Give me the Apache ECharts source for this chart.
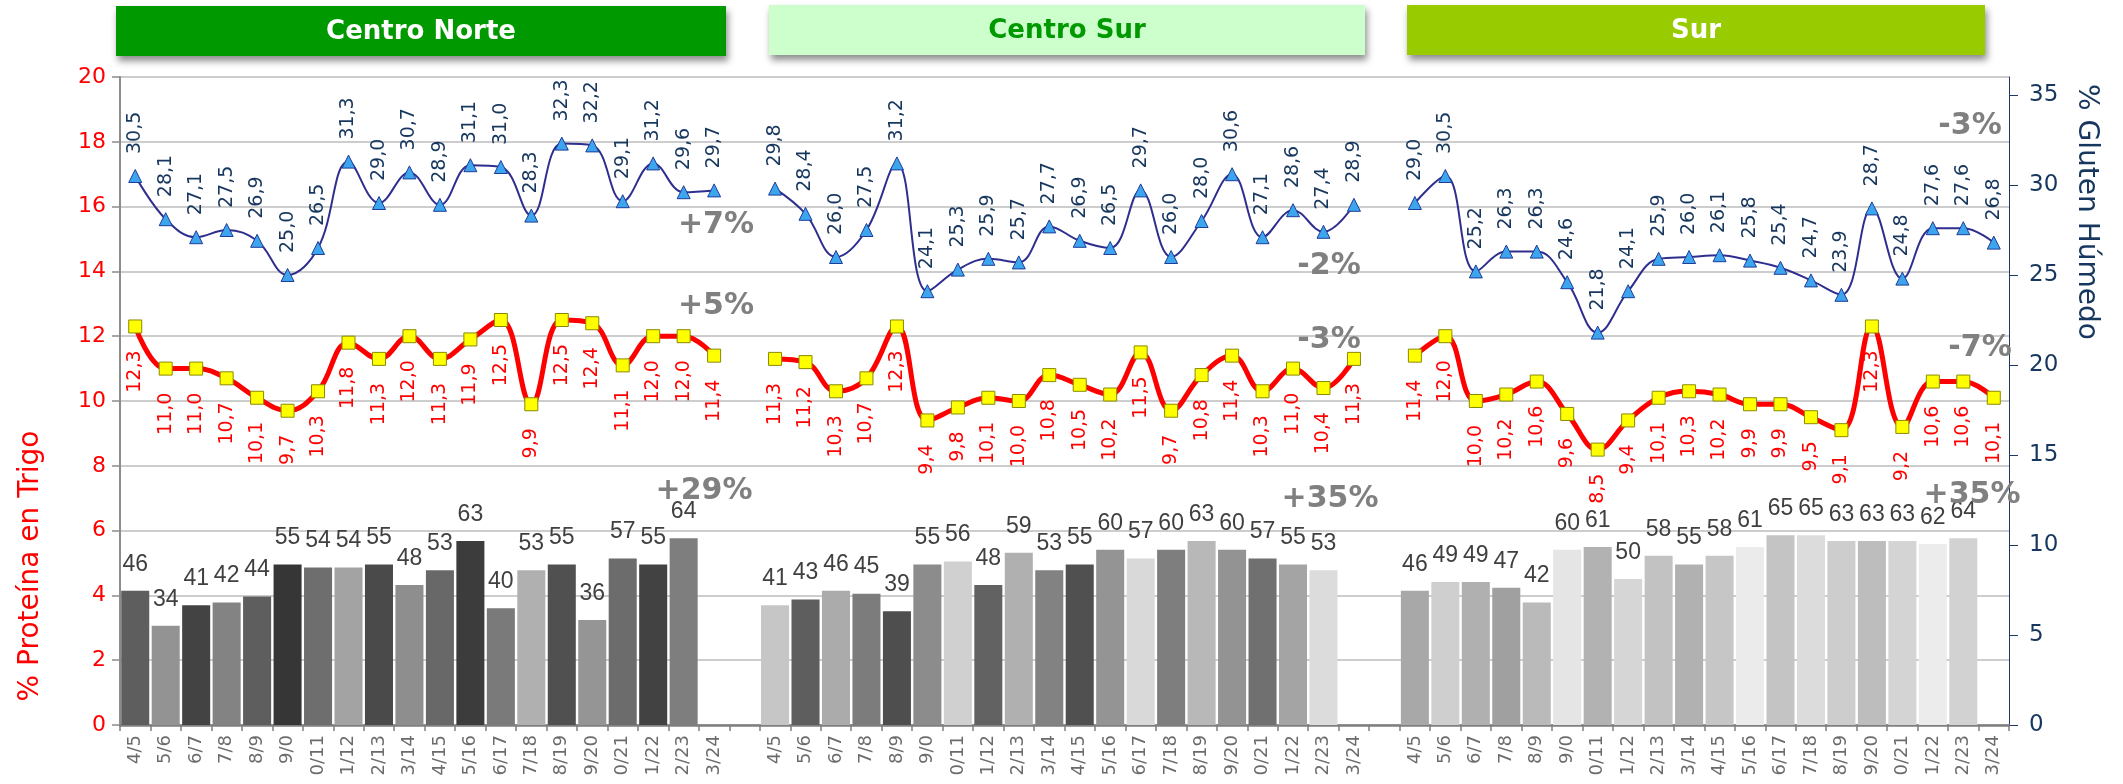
<!DOCTYPE html>
<html>
<head>
<meta charset="utf-8">
<script src="https://cdn.jsdelivr.net/npm/echarts@6/dist/echarts.min.js"></script>
<style>
  html, body { margin: 0; padding: 0; background: #ffffff; }
  #chart { width: 2123px; height: 784px; }
</style>
</head>
<body>
<div id="chart"></div>
<script>
// Campaign labels (same 20 seasons for every region)
const seasons = ['4/5','5/6','6/7','7/8','8/9','9/0','0/11','1/12','2/13','3/14',
                 '4/15','5/16','6/17','7/18','8/19','9/20','0/21','1/22','2/23','3/24'];

const regionNames = ['Centro Norte', 'Centro Sur', 'Sur'];

// % Proteína en Trigo
const proteinCentroNorte = [12.3,11.0,11.0,10.7,10.1,9.7,10.3,11.8,11.3,12.0,11.3,11.9,12.5,9.9,12.5,12.4,11.1,12.0,12.0,11.4];
const proteinCentroSur   = [11.3,11.2,10.3,10.7,12.3,9.4,9.8,10.1,10.0,10.8,10.5,10.2,11.5,9.7,10.8,11.4,10.3,11.0,10.4,11.3];
const proteinSur         = [11.4,12.0,10.0,10.2,10.6,9.6,8.5,9.4,10.1,10.3,10.2,9.9,9.9,9.5,9.1,12.3,9.2,10.6,10.6,10.1];

// % Gluten Húmedo
const glutenCentroNorte = [30.5,28.1,27.1,27.5,26.9,25.0,26.5,31.3,29.0,30.7,28.9,31.1,31.0,28.3,32.3,32.2,29.1,31.2,29.6,29.7];
const glutenCentroSur   = [29.8,28.4,26.0,27.5,31.2,24.1,25.3,25.9,25.7,27.7,26.9,26.5,29.7,26.0,28.0,30.6,27.1,28.6,27.4,28.9];
const glutenSur         = [29.0,30.5,25.2,26.3,26.3,24.6,21.8,24.1,25.9,26.0,26.1,25.8,25.4,24.7,23.9,28.7,24.8,27.6,27.6,26.8];

// Bar values (last season has no bar)
const barsCentroNorte = [46,34,41,42,44,55,54,54,55,48,53,63,40,53,55,36,57,55,64,null];
const barsCentroSur   = [41,43,46,45,39,55,56,48,59,53,55,60,57,60,63,60,57,55,53,null];
const barsSur         = [46,49,49,47,42,60,61,50,58,55,58,61,65,65,63,63,63,62,64,null];

// Variation notes per region: [gluten, protein, bars]
const changeCentroNorte = ['+7%', '+5%', '+29%'];
const changeCentroSur   = ['-2%', '-3%', '+35%'];
const changeSur         = ['-3%', '-7%', '+35%'];

// Bar shades, one per season
const shadesCentroNorte = ['#5e5e5e','#939393','#434343','#838383','#5e5e5e','#363636','#6e6e6e','#a3a3a3','#4a4a4a','#8e8e8e',
                           '#686868','#3c3c3c','#7a7a7a','#b0b0b0','#505050','#959595','#6c6c6c','#424242','#7e7e7e','#7e7e7e'];
const shadesCentroSur   = ['#c6c6c6','#5e5e5e','#ababab','#7c7c7c','#4e4e4e','#8c8c8c','#d0d0d0','#626262','#b0b0b0','#828282',
                           '#505050','#949494','#d9d9d9','#7e7e7e','#b8b8b8','#939393','#707070','#a4a4a4','#dcdcdc','#dcdcdc'];
const shadesSur         = ['#a8a8a8','#cfcfcf','#b0b0b0','#a0a0a0','#bababa','#e5e5e5','#b2b2b2','#d6d6d6','#c2c2c2','#b1b1b1',
                           '#c6c6c6','#ebebeb','#c4c4c4','#dcdcdc','#cdcdcd','#bdbdbd','#d4d4d4','#ececec','#d2d2d2','#d2d2d2'];

// ---- assemble the three regions on one category axis, with an empty slot between them
function joinGroups(groups) {
  const out = [];
  groups.forEach((g, i) => {
    if (i > 0) out.push(null);
    g.forEach(v => out.push(v));
  });
  return out;
}

const categories = joinGroups([seasons, seasons, seasons]).map(v => v === null ? '' : v);
const proteinData = joinGroups([proteinCentroNorte, proteinCentroSur, proteinSur]);
const glutenData = joinGroups([glutenCentroNorte, glutenCentroSur, glutenSur]);
const barValues = joinGroups([barsCentroNorte, barsCentroSur, barsSur]);
const barShades = joinGroups([shadesCentroNorte, shadesCentroSur, shadesSur]);
const barData = barValues.map((v, i) => v === null ? null : { value: v, itemStyle: { color: barShades[i] } });

const decimalComma = p => p.value == null ? '' : Number(p.value).toFixed(1).replace('.', ',');

const chart = echarts.init(document.getElementById('chart'), null, { renderer: 'canvas' });

const labelFont = '"DejaVu Sans", Verdana, sans-serif';
const narrowFont = '"Liberation Sans", Arial, sans-serif';

// Region header boxes
const headers = [
  { name: regionNames[0], x: 116, y: 6, w: 610, h: 50, fill: '#009900', text: '#ffffff' },
  { name: regionNames[1], x: 769, y: 5, w: 596, h: 50, fill: '#ccffcc', text: '#009900' },
  { name: regionNames[2], x: 1407, y: 5, w: 578, h: 50, fill: '#99cc00', text: '#ffffff' }
];

const headerGraphics = [];
headers.forEach(h => {
  headerGraphics.push({
    type: 'rect', left: h.x, top: h.y, z: 10,
    shape: { width: h.w, height: h.h },
    style: { fill: h.fill, shadowBlur: 7, shadowOffsetX: 2, shadowOffsetY: 5, shadowColor: 'rgba(0,0,0,0.45)' }
  });
  headerGraphics.push({
    type: 'text', x: h.x + h.w / 2, y: h.y + h.h / 2 + 1, z: 11,
    style: { text: h.name, fill: h.text, font: 'bold 26px ' + labelFont, textAlign: 'center', textVerticalAlign: 'middle' }
  });
});

// Variation notes placed beside each region's series
const notePositions = [
  [[716, 225], [716, 306], [704, 491]],
  [[1329, 266], [1329, 340], [1330, 499]],
  [[1970, 126], [1980, 348], [1972, 495]]
];
const noteTexts = [changeCentroNorte, changeCentroSur, changeSur];
const noteGraphics = [];
noteTexts.forEach((arr, r) => arr.forEach((t, k) => {
  noteGraphics.push({
    type: 'text', x: notePositions[r][k][0], y: notePositions[r][k][1], z: 20,
    style: { text: t, fill: '#808080', font: 'bold 30px ' + labelFont, textAlign: 'center', textVerticalAlign: 'middle' }
  });
}));

// Axis titles
const titleGraphics = [
  {
    type: 'text', x: 31, y: 566, rotation: Math.PI / 2, z: 20,
    style: { text: '% Proteína en Trigo', fill: '#ff0000', font: '28px ' + labelFont, textAlign: 'center', textVerticalAlign: 'middle' }
  },
  {
    type: 'text', x: 2086, y: 212, rotation: -Math.PI / 2, z: 20,
    style: { text: '% Gluten Húmedo', fill: '#17375e', font: '28px ' + labelFont, textAlign: 'center', textVerticalAlign: 'middle' }
  }
];

const rightTicks = [0, 5, 10, 15, 20, 25, 30, 35];

chart.setOption({
  animation: false,
  backgroundColor: '#ffffff',
  grid: { left: 120, right: 114, top: 77, bottom: 59, containLabel: false },
  xAxis: {
    type: 'category',
    data: categories,
    boundaryGap: true,
    axisLine: { show: true, lineStyle: { color: '#7f7f7f', width: 2.5 } },
    axisTick: { show: true, interval: 0, length: 6, lineStyle: { color: '#7f7f7f', width: 1.5 } },
    axisLabel: { interval: 0, rotate: 90, color: '#6b6b6b', fontSize: 18, fontFamily: labelFont, margin: 10 },
    splitLine: { show: false }
  },
  yAxis: [
    {
      type: 'value', position: 'left', min: 0, max: 20, interval: 2,
      axisLine: { show: true, lineStyle: { color: '#8c8c8c', width: 2 } },
      axisTick: { show: true, length: 8, lineStyle: { color: '#8c8c8c', width: 1.5 } },
      axisLabel: { color: '#ff0000', fontSize: 22, fontFamily: labelFont, margin: 14 },
      splitLine: { show: true, lineStyle: { color: '#bcbcbc', width: 1.6 } }
    },
    {
      type: 'value', position: 'right', min: 0, max: 36,
      axisLine: { show: true, lineStyle: { color: '#1f3864', width: 1 } },
      axisTick: { show: true, length: 9, customValues: rightTicks, lineStyle: { color: '#1f3864', width: 1 } },
      axisLabel: { color: '#17375e', fontSize: 23, fontFamily: labelFont, margin: 20, customValues: rightTicks },
      splitLine: { show: false }
    },
    {
      type: 'value', min: 0, max: 222, show: false,
      splitLine: { show: false }
    }
  ],
  graphic: headerGraphics.concat(noteGraphics, titleGraphics),
  series: [
    {
      name: 'Volumen',
      type: 'bar',
      yAxisIndex: 2,
      data: barData,
      barCategoryGap: '8%',
      z: 1,
      label: {
        show: true, position: 'top', distance: 15,
        color: '#404040', fontSize: 23, fontFamily: narrowFont
      }
    },
    {
      name: '% Proteína en Trigo',
      type: 'line',
      yAxisIndex: 0,
      data: proteinData,
      smooth: 0.4,
      connectNulls: false,
      z: 4,
      symbol: 'rect',
      symbolSize: 13,
      lineStyle: { color: '#ff0000', width: 5 },
      itemStyle: { color: '#ffff00', borderColor: '#8a8a00', borderWidth: 1 },
      label: {
        show: true, position: 'bottom', distance: 17, rotate: 90,
        align: 'right', verticalAlign: 'middle',
        color: '#ff0000', fontSize: 19, fontFamily: labelFont,
        formatter: decimalComma
      }
    },
    {
      name: '% Gluten Húmedo',
      type: 'line',
      yAxisIndex: 1,
      data: glutenData,
      smooth: 0.4,
      connectNulls: false,
      z: 5,
      symbol: 'triangle',
      symbolSize: 13,
      lineStyle: { color: '#2e2e8f', width: 2 },
      itemStyle: { color: '#3da5ee', borderColor: '#1f3c99', borderWidth: 1 },
      label: {
        show: true, position: 'top', distance: 15, rotate: 90,
        align: 'left', verticalAlign: 'middle',
        color: '#17375e', fontSize: 19, fontFamily: labelFont,
        formatter: decimalComma
      }
    }
  ]
});
</script>
</body>
</html>
